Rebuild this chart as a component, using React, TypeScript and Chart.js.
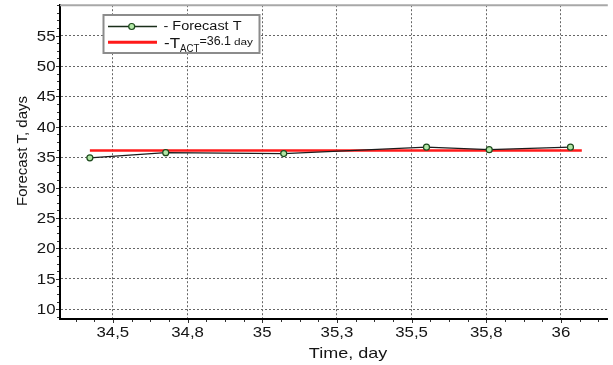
import React, { useEffect, useRef } from "react";
import { Chart, registerables } from "chart.js";

Chart.register(...registerables);

// ---- data ----
const forecastTime = [34.423, 34.677, 35.072, 35.55, 35.76, 36.032];
const forecastT = [34.9, 35.75, 35.6, 36.65, 36.25, 36.65];
const actualTime = [34.423, 36.07];
const actualT = [36.1, 36.1];

const xTickValues = [34.5, 34.75, 35, 35.25, 35.5, 35.75, 36];
const xTickLabels = ["34,5", "34,8", "35", "35,3", "35,5", "35,8", "36"];
const yTickValues = [10, 15, 20, 25, 30, 35, 40, 45, 50, 55];
const yTickLabels = ["10", "15", "20", "25", "30", "35", "40", "45", "50", "55"];

const X_MIN = 34.323;
const X_MAX = 36.157;
const Y_MIN = 8.4;
const Y_MAX = 60;
const X_MINOR_STEP = 0.0625;
const Y_MINOR_STEP = 1.25;

const xTitle = "Time, day";
const yTitle = "Forecast T, days";
const legendForecast = "- Forecast T";
const legendActPrefix = "-T";
const legendActSub = "ACT";
const legendActValue = "=36.1";
const legendActUnit = "day";

const FONT = "'Liberation Sans', Arial, sans-serif";
const TEXT = "#151515";

function drawStretched(
  ctx: CanvasRenderingContext2D,
  text: string,
  x: number,
  y: number,
  size: number,
  sx: number,
  align: "left" | "center" | "right"
) {
  ctx.save();
  ctx.font = `${size}px ${FONT}`;
  const w = ctx.measureText(text).width * sx;
  const left = align === "center" ? x - w / 2 : align === "right" ? x - w : x;
  ctx.translate(left, y);
  ctx.scale(sx, 1);
  ctx.textAlign = "left";
  ctx.textBaseline = "alphabetic";
  ctx.fillStyle = TEXT;
  ctx.fillText(text, 0, 0);
  ctx.restore();
}

function drawFit(
  ctx: CanvasRenderingContext2D,
  text: string,
  x: number,
  y: number,
  size: number,
  width: number
) {
  ctx.save();
  ctx.font = `${size}px ${FONT}`;
  const w = ctx.measureText(text).width;
  ctx.translate(x, y);
  ctx.scale(width / w, 1);
  ctx.textAlign = "left";
  ctx.textBaseline = "alphabetic";
  ctx.fillStyle = TEXT;
  ctx.fillText(text, 0, 0);
  ctx.restore();
}

const decorPlugin = {
  id: "decor",
  afterDraw(chart: any) {
    const ctx: CanvasRenderingContext2D = chart.ctx;
    const { left, right, top, bottom } = chart.chartArea;
    const xs = chart.scales.x;
    const ys = chart.scales.y;

    // top frame line
    ctx.save();
    ctx.strokeStyle = "#a8a8a8";
    ctx.lineWidth = 2;
    ctx.beginPath();
    ctx.moveTo(left, top);
    ctx.lineTo(right, top);
    ctx.stroke();

    // x ticks (major + minor)
    ctx.strokeStyle = "#333";
    ctx.lineWidth = 1;
    ctx.beginPath();
    const x0 = Math.ceil(X_MIN / X_MINOR_STEP) * X_MINOR_STEP;
    for (let v = x0; v <= X_MAX + 1e-9; v += X_MINOR_STEP) {
      const px = Math.round(xs.getPixelForValue(v)) + 0.5;
      const major = xTickValues.some((t) => Math.abs(t - v) < 1e-6);
      ctx.moveTo(px, bottom + 1);
      ctx.lineTo(px, bottom + (major ? 4 : 3));
    }
    // y ticks (major + minor)
    const y0 = Math.ceil(Y_MIN / Y_MINOR_STEP) * Y_MINOR_STEP;
    for (let v = y0; v <= Y_MAX + 1e-9; v += Y_MINOR_STEP) {
      const py = Math.round(ys.getPixelForValue(v)) + 0.5;
      const major = yTickValues.some((t) => Math.abs(t - v) < 1e-6);
      ctx.moveTo(left - 1, py);
      ctx.lineTo(left - (major ? 4 : 3), py);
    }
    ctx.stroke();
    ctx.restore();

    // tick labels
    xTickValues.forEach((v, i) => {
      drawStretched(ctx, xTickLabels[i], xs.getPixelForValue(v), 337, 14, 1.2, "center");
    });
    yTickValues.forEach((v, i) => {
      drawStretched(ctx, yTickLabels[i], 55.5, ys.getPixelForValue(v) + 5, 14, 1.2, "right");
    });

    // axis titles
    drawStretched(ctx, xTitle, 348, 358, 15, 1.2, "center");
    ctx.save();
    ctx.translate(26.7, 151);
    ctx.rotate(-Math.PI / 2);
    ctx.font = `15px ${FONT}`;
    ctx.fillStyle = TEXT;
    ctx.textAlign = "center";
    ctx.textBaseline = "alphabetic";
    ctx.fillText(yTitle, 0, 0);
    ctx.restore();

    // legend box
    ctx.save();
    ctx.fillStyle = "#ffffff";
    ctx.fillRect(103.5, 15, 156, 38);
    ctx.strokeStyle = "#8c8c8c";
    ctx.lineWidth = 2;
    ctx.strokeRect(103.5, 15, 156, 38);

    ctx.strokeStyle = "#1a2e1a";
    ctx.lineWidth = 1.3;
    ctx.beginPath();
    ctx.moveTo(108, 26.5);
    ctx.lineTo(157, 26.5);
    ctx.stroke();
    ctx.beginPath();
    ctx.arc(131.7, 26.5, 3, 0, Math.PI * 2);
    ctx.fillStyle = "#b2e8a6";
    ctx.fill();
    ctx.strokeStyle = "#1d4a1d";
    ctx.lineWidth = 1.2;
    ctx.stroke();

    ctx.strokeStyle = "#ff1a1a";
    ctx.lineWidth = 3;
    ctx.beginPath();
    ctx.moveTo(108, 42.3);
    ctx.lineTo(157, 42.3);
    ctx.stroke();
    ctx.restore();

    drawFit(ctx, legendForecast, 163.5, 30, 12, 78);
    drawFit(ctx, legendActPrefix, 164, 47.7, 14, 16);
    drawFit(ctx, legendActSub, 180, 51.5, 10, 19.3);
    drawFit(ctx, legendActValue, 199.5, 45, 12.5, 31.5);
    drawFit(ctx, legendActUnit, 234, 45, 9.5, 19);
  },
};

export default function App() {
  const canvasRef = useRef<HTMLCanvasElement | null>(null);

  useEffect(() => {
    const canvas = canvasRef.current;
    if (!canvas) return;
    const chart = new Chart(canvas, {
      type: "line",
      data: {
        datasets: [
          {
            label: "Forecast T",
            data: forecastTime.map((x, i) => ({ x, y: forecastT[i] })),
            borderColor: "#1c1c1c",
            borderWidth: 1.3,
            pointRadius: 3,
            pointBackgroundColor: "#b2e8a6",
            pointBorderColor: "#1d4a1d",
            pointBorderWidth: 1.2,
            tension: 0,
            order: 0,
          },
          {
            label: "T_ACT",
            data: actualTime.map((x, i) => ({ x, y: actualT[i] })),
            borderColor: "#ff1a1a",
            borderWidth: 2.5,
            pointRadius: 0,
            tension: 0,
            order: 1,
          },
        ],
      },
      options: {
        responsive: false,
        animation: false,
        devicePixelRatio: 1,
        layout: { padding: { top: 5, left: 0, right: 0, bottom: 0 } },
        plugins: { legend: { display: false }, tooltip: { enabled: false } },
        scales: {
          x: {
            type: "linear",
            min: X_MIN,
            max: X_MAX,
            afterBuildTicks: (s: any) => {
              s.ticks = xTickValues.map((value) => ({ value }));
            },
            afterFit: (s: any) => {
              s.height = 46;
            },
            ticks: { display: false },
            grid: { color: "#666", lineWidth: 1, drawTicks: false },
            border: { display: true, color: "#000", width: 2, dash: [2, 2] },
          },
          y: {
            type: "linear",
            min: Y_MIN,
            max: Y_MAX,
            afterBuildTicks: (s: any) => {
              s.ticks = yTickValues.map((value) => ({ value }));
            },
            afterFit: (s: any) => {
              s.width = 60;
            },
            ticks: { display: false },
            grid: { color: "#666", lineWidth: 1, drawTicks: false },
            border: { display: true, color: "#000", width: 2, dash: [2, 2] },
          },
        },
      },
      plugins: [decorPlugin],
    } as any);
    return () => chart.destroy();
  }, []);

  return (
    <div style={{ position: "absolute", left: 0, top: 0, width: 613, height: 365, background: "#fff" }}>
      <canvas ref={canvasRef} width={613} height={365} style={{ display: "block" }} />
    </div>
  );
}
